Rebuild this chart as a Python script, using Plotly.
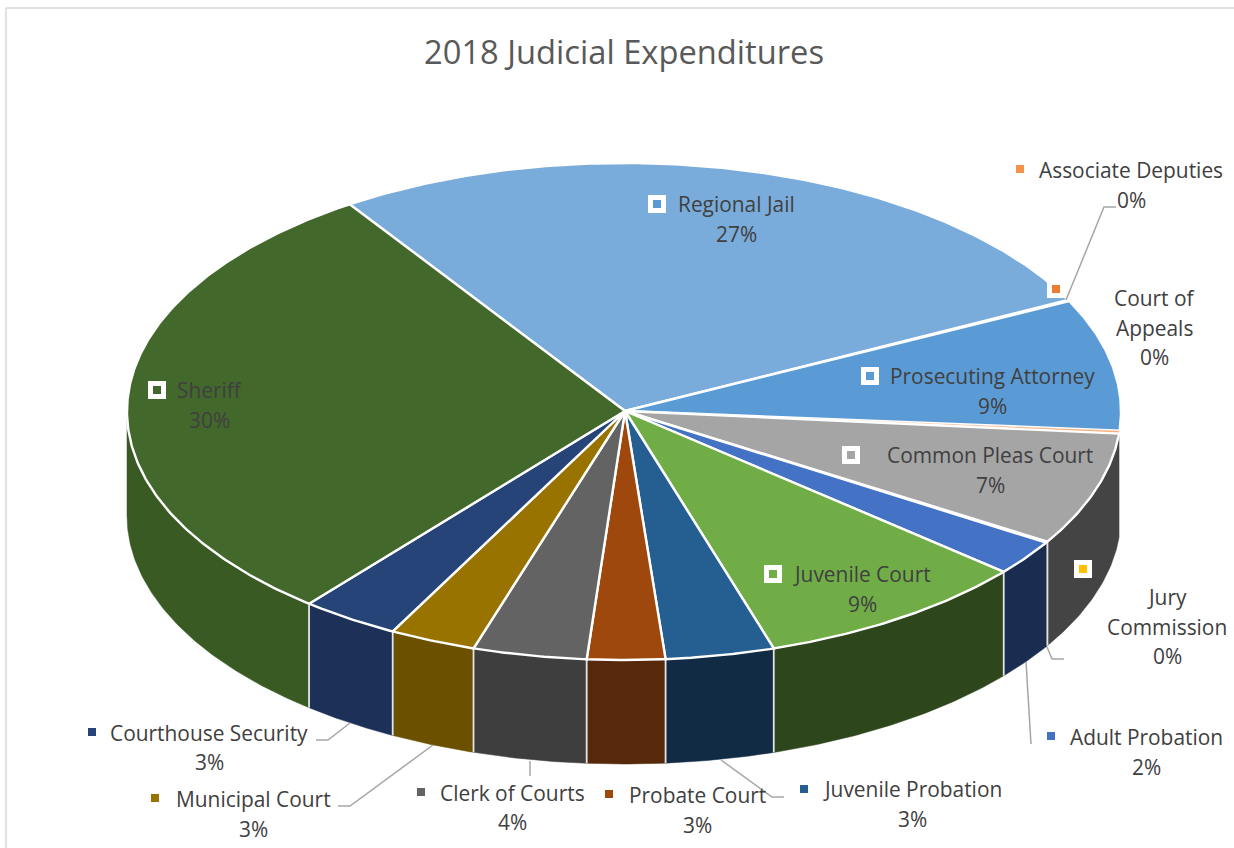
import math
import plotly.graph_objects as go

# ---------- data (clockwise from the Regional Jail slice) ----------
categories = ["Regional Jail", "Associate Deputies", "Prosecuting Attorney", "Court of Appeals",
              "Common Pleas Court", "Jury Commission", "Adult Probation", "Juvenile Court",
              "Juvenile Probation", "Probate Court", "Clerk of Courts", "Municipal Court",
              "Courthouse Security", "Sheriff"]
values = [26.9, 0.08, 8.56, 0.19, 7.36, 0.08, 2.31, 8.97, 3.54, 2.53, 3.70, 2.81, 3.22, 29.78]
percent_labels = ["27%", "0%", "9%", "0%", "7%", "0%", "2%", "9%", "3%", "3%", "4%", "3%", "3%", "30%"]
title_text = "2018 Judicial Expenditures"

# ---------- styles ----------
top_colors = ["#7AACDB", "#FFFFFF", "#5B9BD5", "#F4B183", "#A5A5A5", "#FFFFFF", "#4472C4", "#70AD47",
              "#255E91", "#9E480E", "#636363", "#997300", "#264478", "#43682B"]
side_colors = [None, None, None, None, "#444444", "#444444", "#1A2C50", "#2D461B",
               "#122B45", "#57290A", "#3E3E3E", "#6B5000", "#1C3058", "#3A5A24"]
key_colors = {"Regional Jail": "#5B9BD5", "Sheriff": "#43682B", "Prosecuting Attorney": "#5B9BD5",
              "Common Pleas Court": "#A5A5A5", "Juvenile Court": "#70AD47", "Jury Commission": "#FFC000",
              "Associate Deputies": "#F4914D", "Adult Probation": "#4472C4", "Juvenile Probation": "#255E91",
              "Probate Court": "#9E480E", "Clerk of Courts": "#636363", "Municipal Court": "#997300",
              "Courthouse Security": "#264478"}

# ---------- layout of the drawing ----------
W, H = 1234, 848
CX, CY, RX, RY, DEPTH = 624, 411.5, 497, 248.5, 104
APEX = (625, 411)
START = -33.5
FONT = "Open Sans"
TXT = "#404040"

# name -> (text centre x, first-line y, line gap, wrapped lines)
label_pos = {
    "Regional Jail": (736, 204, 30, ["Regional Jail"]),
    "Sheriff": (209, 390, 30, ["Sheriff"]),
    "Prosecuting Attorney": (992, 376, 30, ["Prosecuting Attorney"]),
    "Common Pleas Court": (990, 455, 30, ["Common Pleas Court"]),
    "Juvenile Court": (862, 574, 30, ["Juvenile Court"]),
    "Associate Deputies": (1131, 170, 29.5, ["Associate Deputies"]),
    "Court of Appeals": (1154, 298, 29.5, ["Court of", "Appeals"]),
    "Jury Commission": (1167, 597, 29.5, ["Jury", "Commission"]),
    "Adult Probation": (1146, 737, 30, ["Adult Probation"]),
    "Juvenile Probation": (912, 789, 30, ["Juvenile Probation"]),
    "Probate Court": (697, 795, 30, ["Probate Court"]),
    "Clerk of Courts": (512, 793, 29, ["Clerk of Courts"]),
    "Municipal Court": (253, 799, 30, ["Municipal Court"]),
    "Courthouse Security": (209, 733, 29, ["Courthouse Security"]),
}
boxed_keys = {"Regional Jail": (657, 204), "Sheriff": (157, 390), "Prosecuting Attorney": (870, 376),
              "Common Pleas Court": (851, 455), "Juvenile Court": (773, 574), "Jury Commission": (1083, 569)}
plain_keys = {"Associate Deputies": (1020, 169), "Adult Probation": (1051, 736),
              "Juvenile Probation": (804, 789), "Probate Court": (609, 794),
              "Clerk of Courts": (421, 792), "Municipal Court": (155, 798),
              "Courthouse Security": (92, 732)}
leaders = [[(1066, 300), (1104, 207), (1116, 207)],
           [(1047, 647), (1052, 659), (1064, 659)],
           [(1026, 662), (1031, 744)],
           [(350, 723), (328, 740), (316, 740)],
           [(433, 745), (350, 806), (338, 806)],
           [(530, 761), (530, 776)],
           [(721, 760), (772, 797), (784, 797)]]


def pt(deg, dy=0.0):
    """Point on the rim for a clockwise-from-top angle."""
    a = math.radians(deg)
    return CX + RX * math.sin(a), CY - RY * math.cos(a) + dy


def arc(a0, a1, dy=0.0, step=0.5):
    n = max(2, int(abs(a1 - a0) / step) + 2)
    return [pt(a0 + (a1 - a0) * i / (n - 1), dy) for i in range(n)]


total = sum(values)
angles = [START]
for v in values:
    angles.append(angles[-1] + v / total * 360)

fig = go.Figure()


def poly(points, fill, line=None, width=0):
    fig.add_trace(go.Scatter(x=[p[0] for p in points], y=[p[1] for p in points], mode="lines",
                             fill="toself", fillcolor=fill, hoverinfo="skip", showlegend=False,
                             line=dict(color=line or fill, width=width)))


def stroke(points, color, width):
    fig.add_trace(go.Scatter(x=[p[0] for p in points], y=[p[1] for p in points], mode="lines",
                             hoverinfo="skip", showlegend=False,
                             line=dict(color=color, width=width)))


# outer wall
for i, c in enumerate(categories):
    if side_colors[i] is None:
        continue
    a0, a1 = max(angles[i], 90), min(angles[i + 1], 270)
    if a1 <= a0:
        continue
    top = arc(a0, a1)
    bottom = arc(a1, a0, DEPTH)
    poly(top + bottom + [top[0]], side_colors[i], width=0.5)
for i, a in enumerate(angles[1:]):
    if 100 < a < 270 and values[i] >= 1:
        x, y = pt(a)
        stroke([(x, y), (x, y + DEPTH)], "#E4E4E4", 1.8)

# top face
for i, c in enumerate(categories):
    pts = [APEX] + arc(angles[i], angles[i + 1]) + [APEX]
    poly(pts, top_colors[i], "#FFFFFF", 2.4 if values[i] >= 1 else 0.6)

# leader lines
for seg in leaders:
    stroke(seg, "#A6A6A6", 1.5)

# data-label keys
for name, (x, y) in boxed_keys.items():
    fig.add_shape(type="rect", x0=x - 9, x1=x + 9, y0=y - 9, y1=y + 9, fillcolor="#FFFFFF",
                  line=dict(width=0), layer="above")
    fig.add_shape(type="rect", x0=x - 4, x1=x + 4, y0=y - 4, y1=y + 4, fillcolor=key_colors[name],
                  line=dict(width=0), layer="above")
for name, (x, y) in plain_keys.items():
    fig.add_shape(type="rect", x0=x - 4, x1=x + 4, y0=y - 4, y1=y + 4, fillcolor=key_colors[name],
                  line=dict(width=0), layer="above")
# the marker that sits on the Associate Deputies sliver
fig.add_shape(type="rect", x0=1047, x1=1065, y0=280, y1=298, fillcolor="#FFFFFF", line=dict(width=0), layer="above")
fig.add_shape(type="rect", x0=1052, x1=1060, y0=285, y1=293, fillcolor="#ED7D31", line=dict(width=0), layer="above")

# frame
fig.add_shape(type="line", x0=6, x1=W, y0=8, y1=8, line=dict(color="#D9D9D9", width=1.5), layer="below")
fig.add_shape(type="line", x0=6, x1=6, y0=8, y1=H, line=dict(color="#D9D9D9", width=1.5), layer="below")


def text(x, y, s, size=20.9, color=TXT):
    fig.add_annotation(x=x, y=y, text=s, showarrow=False, xanchor="center", yanchor="middle",
                       font=dict(family=FONT, size=size, color=color))


for i, c in enumerate(categories):
    x, y, gap, lines = label_pos[c]
    for k, line in enumerate(lines + [percent_labels[i]]):
        text(x, y + k * gap, line)

text(624, 51, title_text, size=32.7, color="#595959")

fig.update_layout(width=W, height=H, margin=dict(l=0, r=0, t=0, b=0), paper_bgcolor="#FFFFFF",
                  plot_bgcolor="#FFFFFF", showlegend=False,
                  xaxis=dict(range=[0, W], visible=False, fixedrange=True),
                  yaxis=dict(range=[H, 0], visible=False, fixedrange=True))
fig.write_html("out.html", config={"displayModeBar": False, "responsive": False},
               post_script="document.body.style.margin='0';document.body.style.overflow='hidden';")
